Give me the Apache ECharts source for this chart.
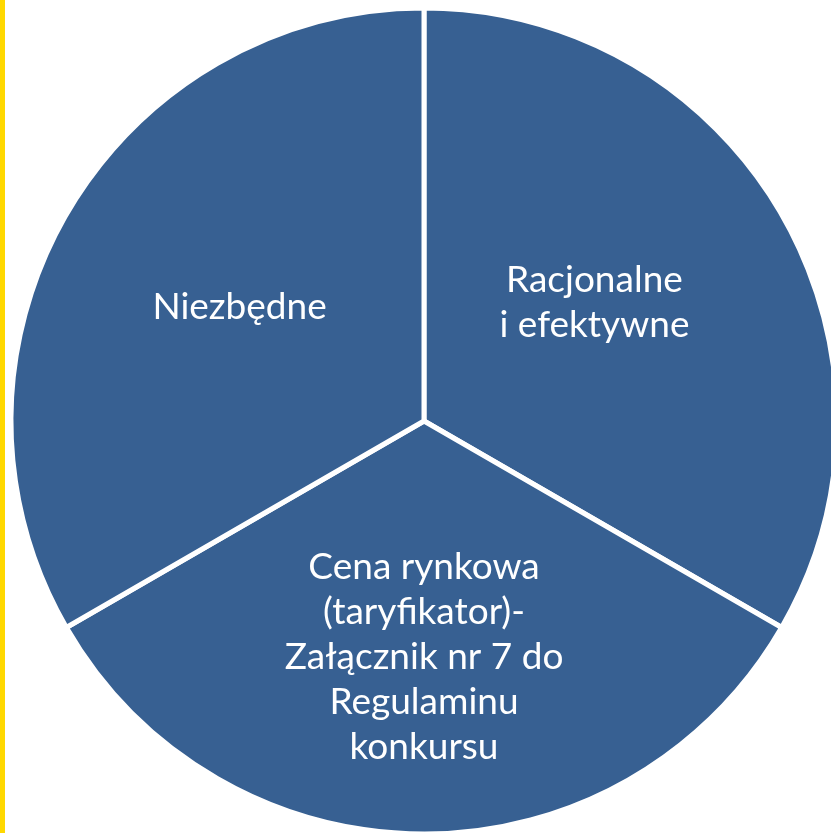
<!DOCTYPE html>
<html>
<head>
<meta charset="utf-8">
<script src="https://cdn.jsdelivr.net/npm/echarts@6/dist/echarts.min.js"></script>
<style>
html, body { margin: 0; padding: 0; background: #fff; }
#chart { width: 831px; height: 833px; }
</style>
</head>
<body>
<div id="chart"></div>
<script>
// kategorie wydatków (kolejność zgodnie z ruchem wskazówek zegara od góry)
var categories = ['Racjonalne\ni efektywne', 'Cena rynkowa\n(taryfikator)-\nZałącznik nr 7 do\nRegulaminu\nkonkursu', 'Niezbędne'];
var values = [1, 1, 1];

var dataList = [];
for (var i = 0; i < categories.length; i++) {
	dataList.push({ name: categories[i], value: values[i] });
}

// korekta położenia etykiet względem środka wycinka
var labelShift = [[-11, -14], [0, 27], [-3, -9]];

var myChart = echarts.init(document.getElementById('chart'));
var option = {
	animation: false,
	backgroundColor: '#fff',
	graphic: [{
		type: 'rect',
		left: 0,
		top: 0,
		shape: { width: 5, height: 833 },
		style: { fill: '#ffd800' }
	}],
	series: [{
		type: 'pie',
		center: [424, 421],
		radius: 413,
		startAngle: 90,
		clockwise: true,
		color: ['#376092'],
		itemStyle: {
			color: '#376092',
			borderColor: '#fff',
			borderWidth: 5
		},
		label: {
			show: true,
			position: 'inside',
			color: '#fff',
			fontFamily: 'Lato',
			fontSize: 37,
			lineHeight: 45,
			align: 'center'
		},
		labelLayout: function (params) {
			var s = labelShift[params.dataIndex];
			return { dx: s[0], dy: s[1] };
		},
		labelLine: { show: false },
		emphasis: { disabled: true },
		data: dataList
	}]
};
myChart.setOption(option);
</script>
</body>
</html>
